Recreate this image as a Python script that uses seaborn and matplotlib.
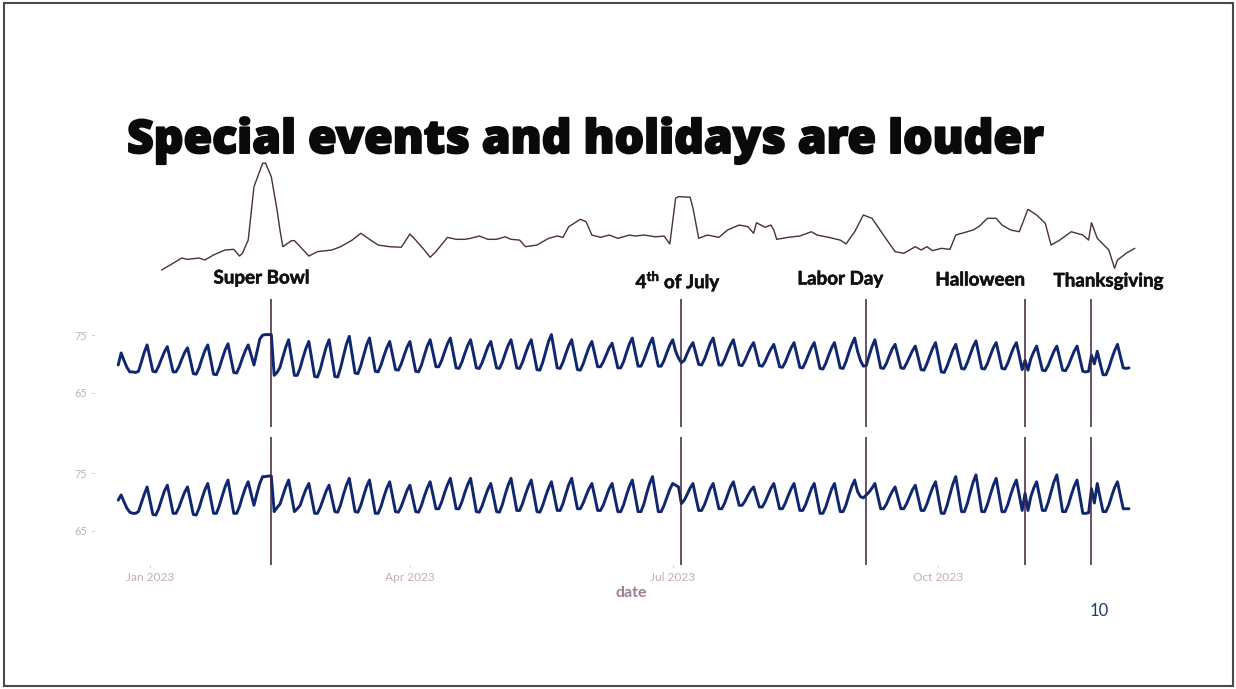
import numpy as np
import pandas as pd
import matplotlib
matplotlib.use("Agg")
import matplotlib.pyplot as plt
import matplotlib.dates as mdates
import matplotlib.patheffects as pe
from matplotlib.patches import Rectangle
import seaborn as sns

sns.set_theme(style="white")
plt.rcParams["font.family"] = ["Lato", "DejaVu Sans"]
plt.rcParams["mathtext.fontset"] = "custom"
plt.rcParams["mathtext.rm"] = "Lato:bold"
plt.rcParams["mathtext.bf"] = "Lato:bold"

# ---------------- data ----------------
title = "Special events and holidays are louder"
series_start = "2022-12-21"

# daily values, one row per week (Sun..Sat), top panel
panel_top = [
    69.8, 71.9, 70.6, 69.4,
    68.6, 68.6, 68.5, 68.7, 70.3, 72.0, 73.3,
    71.0, 68.7, 68.6, 69.6, 70.9, 72.1, 73.0,
    70.8, 68.6, 68.6, 69.5, 70.8, 72.0, 72.8,
    70.6, 68.3, 68.2, 69.3, 70.9, 72.3, 73.3,
    70.8, 68.2, 68.1, 69.3, 70.9, 72.4, 73.5,
    71.0, 68.5, 68.4, 69.5, 71.0, 72.3, 73.3,
    71.6, 69.8, 72.0, 74.3, 75.0, 75.1, 75.1,
    75.1, 68.0, 68.5, 69.4, 71.2, 72.9, 74.2,
    71.1, 68.0, 68.0, 69.3, 71.1, 72.7, 73.9,
    70.9, 67.8, 67.7, 69.1, 71.1, 72.9, 74.2,
    71.0, 67.8, 67.7, 69.3, 71.4, 73.4, 74.8,
    71.6, 68.4, 68.3, 69.7, 71.5, 73.3, 74.5,
    71.6, 68.7, 68.6, 69.8, 71.4, 72.8, 73.9,
    71.5, 69.0, 68.9, 70.0, 71.5, 72.9, 73.9,
    71.3, 68.7, 68.6, 69.8, 71.5, 73.1, 74.2,
    71.9, 69.5, 69.5, 70.6, 72.1, 73.5, 74.5,
    71.9, 69.3, 69.2, 70.3, 71.8, 73.2, 74.2,
    71.8, 69.3, 69.2, 70.2, 71.6, 73.0, 73.9,
    71.6, 69.3, 69.2, 70.3, 71.8, 73.2, 74.2,
    71.8, 69.3, 69.2, 70.3, 71.8, 73.2, 74.2,
    71.6, 69.0, 68.9, 70.3, 72.1, 73.9, 75.1,
    72.2, 69.3, 69.2, 70.3, 71.8, 73.2, 74.2,
    71.6, 69.0, 68.9, 70.0, 71.5, 72.9, 73.9,
    71.7, 69.5, 69.5, 70.4, 71.6, 72.8, 73.6,
    71.5, 69.3, 69.3, 70.4, 72.0, 73.5, 74.5,
    72.0, 69.6, 69.6, 70.7, 72.1, 73.5, 74.5,
    72.0, 69.6, 69.6, 70.6, 72.0, 73.3, 74.2,
    72.2, 71.0, 70.2, 70.6, 71.8, 72.9, 73.7,
    71.8, 69.9, 69.8, 70.8, 72.2, 73.6, 74.5,
    72.1, 69.8, 69.8, 70.8, 72.1, 73.3, 74.2,
    72.0, 69.8, 69.7, 70.6, 71.8, 72.9, 73.7,
    71.7, 69.7, 69.6, 70.4, 71.6, 72.6, 73.4,
    71.5, 69.5, 69.4, 70.3, 71.6, 72.8, 73.7,
    71.6, 69.4, 69.3, 70.3, 71.6, 72.8, 73.7,
    71.5, 69.2, 69.1, 70.1, 71.5, 72.8, 73.7,
    71.5, 69.3, 69.2, 70.4, 72.0, 73.4, 74.5,
    72.2, 70.6, 69.6, 69.7, 71.4, 73.0, 74.2,
    71.8, 69.3, 69.2, 70.1, 71.4, 72.6, 73.4,
    71.4, 69.3, 69.2, 70.1, 71.2, 72.3, 73.1,
    71.1, 69.0, 68.9, 70.0, 71.4, 72.7, 73.7,
    71.2, 68.6, 68.5, 69.6, 71.0, 72.4, 73.4,
    71.3, 69.2, 69.1, 70.2, 71.6, 73.0, 74.0,
    71.6, 69.2, 69.1, 70.1, 71.5, 72.8, 73.7,
    71.5, 69.2, 69.1, 70.1, 71.5, 72.8, 73.7,
    71.4, 69.0, 70.6, 68.9, 70.9, 72.1, 73.1,
    71.0, 68.9, 68.8, 69.7, 71.0, 72.2, 73.1,
    71.0, 68.9, 68.8, 69.7, 71.0, 72.2, 73.1,
    70.9, 68.7, 68.6, 68.7, 71.5, 70.0, 72.2,
    70.1, 68.1, 68.1, 69.3, 70.9, 72.3, 73.4,
    71.3, 69.3, 69.2, 69.3,
]

# daily values, bottom panel
panel_bottom = [
    70.3, 71.2, 70.0, 68.9,
    68.2, 68.0, 68.0, 68.3, 69.8, 71.3, 72.6,
    70.2, 67.8, 67.7, 68.8, 70.4, 71.9, 72.9,
    70.5, 68.0, 68.0, 69.0, 70.4, 71.7, 72.6,
    70.2, 67.8, 67.7, 68.9, 70.6, 72.1, 73.2,
    70.6, 68.0, 68.0, 69.3, 71.0, 72.6, 73.8,
    70.9, 68.0, 68.0, 69.2, 70.9, 72.4, 73.5,
    71.4, 69.4, 71.4, 73.2, 74.4, 74.4, 74.5,
    74.5, 68.3, 69.0, 69.6, 71.1, 72.6, 73.8,
    71.0, 68.3, 68.8, 69.4, 70.9, 72.2, 73.2,
    70.6, 68.0, 68.0, 69.1, 70.5, 71.9, 72.9,
    70.6, 68.3, 68.2, 69.5, 71.3, 72.9, 74.1,
    71.2, 68.3, 68.2, 69.4, 71.1, 72.7, 73.8,
    70.9, 68.0, 68.0, 69.2, 70.9, 72.4, 73.5,
    70.9, 68.3, 68.2, 69.2, 70.6, 72.0, 72.9,
    70.6, 68.3, 68.2, 69.4, 71.0, 72.4, 73.5,
    71.2, 68.8, 68.8, 70.0, 71.6, 73.0, 74.1,
    71.5, 68.8, 68.8, 70.0, 71.6, 73.0, 74.1,
    71.2, 68.3, 68.2, 69.3, 70.8, 72.2, 73.2,
    70.8, 68.3, 68.2, 69.5, 71.3, 72.9, 74.1,
    71.3, 68.5, 68.5, 69.7, 71.3, 72.7, 73.8,
    71.0, 68.3, 68.2, 69.4, 71.0, 72.4, 73.5,
    71.0, 68.5, 68.5, 69.7, 71.4, 73.0, 74.1,
    71.4, 68.8, 68.8, 69.8, 71.1, 72.3, 73.2,
    70.9, 68.5, 68.5, 69.5, 70.9, 72.3, 73.2,
    70.7, 68.3, 68.3, 69.5, 71.2, 72.7, 73.8,
    71.0, 68.3, 68.3, 69.6, 71.5, 73.2, 74.4,
    71.3, 68.3, 68.3, 69.4, 70.8, 72.2, 73.2,
    72.9, 72.6, 69.7, 70.3, 71.3, 72.4, 73.2,
    70.8, 68.5, 68.5, 69.5, 70.9, 72.3, 73.2,
    71.0, 68.8, 68.8, 69.8, 71.2, 72.6, 73.5,
    71.4, 69.4, 69.4, 70.1, 71.1, 72.0, 72.6,
    70.8, 69.1, 69.1, 70.0, 71.2, 72.4, 73.2,
    71.0, 68.8, 68.8, 69.8, 71.1, 72.3, 73.2,
    70.8, 68.5, 68.5, 69.5, 70.9, 72.3, 73.2,
    70.6, 68.0, 68.0, 69.1, 70.7, 72.2, 73.2,
    70.7, 68.3, 68.3, 69.5, 71.2, 72.7, 73.8,
    71.8, 70.9, 70.7, 71.2, 71.7, 72.4, 73.2,
    71.0, 68.8, 68.8, 69.6, 70.8, 71.8, 72.6,
    70.7, 68.8, 68.8, 69.7, 70.9, 72.1, 72.9,
    70.7, 68.5, 68.5, 69.6, 71.1, 72.5, 73.5,
    70.8, 68.0, 68.0, 69.4, 71.3, 73.1, 74.4,
    71.4, 68.3, 68.3, 69.7, 71.6, 73.4, 74.7,
    71.5, 68.3, 68.3, 69.6, 71.3, 72.9, 74.1,
    71.2, 68.3, 68.3, 69.5, 71.2, 72.7, 73.8,
    71.1, 68.5, 71.5, 68.5, 70.9, 72.4, 73.5,
    71.0, 68.5, 68.5, 69.9, 71.7, 73.5, 74.7,
    71.5, 68.3, 68.3, 69.5, 71.2, 72.7, 73.8,
    70.9, 68.0, 68.0, 68.1, 72.3, 69.8, 73.2,
    70.7, 68.3, 68.3, 69.4, 71.0, 72.5, 73.5,
    71.1, 68.8, 68.8, 68.8,
]

# "loudness" sparkline (index, 0-100)
loud_dates = [
    "2023-01-05", "2023-01-08", "2023-01-12", "2023-01-14", "2023-01-18", "2023-01-20",
    "2023-01-23", "2023-01-27", "2023-01-30", "2023-02-01", "2023-02-02", "2023-02-04",
    "2023-02-06", "2023-02-09", "2023-02-10", "2023-02-12", "2023-02-14", "2023-02-15",
    "2023-02-16", "2023-02-19", "2023-02-20", "2023-02-22", "2023-02-25", "2023-02-28",
    "2023-03-05", "2023-03-08", "2023-03-12", "2023-03-15", "2023-03-18", "2023-03-21",
    "2023-03-25", "2023-03-29", "2023-04-01", "2023-04-03", "2023-04-06", "2023-04-08",
    "2023-04-10", "2023-04-14", "2023-04-17", "2023-04-20", "2023-04-22", "2023-04-25",
    "2023-04-28", "2023-05-01", "2023-05-04", "2023-05-06", "2023-05-09", "2023-05-11",
    "2023-05-15", "2023-05-19", "2023-05-22", "2023-05-24", "2023-05-26", "2023-05-30",
    "2023-06-01", "2023-06-03", "2023-06-06", "2023-06-09", "2023-06-12", "2023-06-16",
    "2023-06-18", "2023-06-21", "2023-06-25", "2023-06-28", "2023-06-30", "2023-07-02",
    "2023-07-03", "2023-07-07", "2023-07-08", "2023-07-10", "2023-07-13", "2023-07-17",
    "2023-07-20", "2023-07-24", "2023-07-27", "2023-07-29", "2023-07-30", "2023-08-02",
    "2023-08-04", "2023-08-05", "2023-08-06", "2023-08-10", "2023-08-14", "2023-08-18",
    "2023-08-20", "2023-08-24", "2023-08-28", "2023-08-30", "2023-09-02", "2023-09-05",
    "2023-09-08", "2023-09-10", "2023-09-13", "2023-09-16", "2023-09-19", "2023-09-23",
    "2023-09-25", "2023-09-27", "2023-09-29", "2023-10-02", "2023-10-05", "2023-10-07",
    "2023-10-11", "2023-10-13", "2023-10-15", "2023-10-18", "2023-10-21", "2023-10-23",
    "2023-10-26", "2023-10-29", "2023-11-01", "2023-11-04", "2023-11-07", "2023-11-09",
    "2023-11-12", "2023-11-16", "2023-11-20", "2023-11-22", "2023-11-23", "2023-11-25",
    "2023-11-29", "2023-12-01", "2023-12-02", "2023-12-05", "2023-12-08",
]
loud_values = [
    1.8, 6.4, 12.7, 11.5, 12.7, 10.9,
    15.5, 20.0, 20.6, 14.5, 17.0, 29.0,
    77.5, 98.8, 99.0, 86.6, 56.4, 38.2,
    23.0, 28.5, 28.5, 23.0, 14.5, 18.5,
    20.0, 23.0, 29.0, 35.2, 29.7, 24.5,
    23.0, 22.5, 34.5, 29.0, 20.0, 13.4,
    18.5, 31.5, 29.7, 29.7, 30.6, 32.7,
    29.7, 29.7, 32.0, 29.7, 29.0, 23.0,
    24.5, 30.6, 32.7, 31.5, 41.2, 47.9,
    45.7, 33.6, 31.5, 33.6, 30.6, 33.6,
    32.7, 33.6, 32.0, 32.7, 25.5, 67.0,
    68.5, 68.0, 58.2, 30.6, 33.6, 31.5,
    38.2, 42.7, 41.2, 35.2, 44.8, 40.6,
    42.7, 38.2, 29.7, 31.5, 32.7, 36.6,
    33.6, 31.5, 29.0, 25.5, 36.6, 51.8,
    48.8, 41.2, 29.7, 18.5, 17.0, 23.0,
    20.0, 23.0, 19.4, 21.5, 20.6, 33.6,
    36.6, 38.2, 41.2, 48.8, 48.8, 42.7,
    38.2, 36.6, 57.0, 51.8, 44.3, 24.5,
    29.0, 36.6, 33.6, 29.0, 44.8, 30.6,
    20.0, 3.4, 10.9, 17.0, 21.5,
]

events = ["Super Bowl", r"4$^{\mathbf{th}}$ of July", "Labor Day", "Halloween", "Thanksgiving"]
event_dates = ["2023-02-12", "2023-07-04", "2023-09-06", "2023-10-31", "2023-11-23"]
y_ticks = [65, 75]
x_tick_dates = ["2023-01-01", "2023-04-01", "2023-07-01", "2023-10-01"]
x_tick_labels = ["Jan 2023", "Apr 2023", "Jul 2023", "Oct 2023"]
page_number = "10"

# ---------------- layout ----------------
W, H = 1236, 689
fig = plt.figure(figsize=(W / 100, H / 100), dpi=100)
fig.patch.set_facecolor("white")

def box(left, top, right, bottom):
    return [left / W, 1 - bottom / H, (right - left) / W, (bottom - top) / H]

LINE_COL = "#0f2670"
VLINE_COL = "#40243a"
TICK_COL = "#c3adb9"

ref = pd.Timestamp("2023-01-01")
px_per_day = 2.888
x_left = mdates.date2num(ref) + (94 - 150) / px_per_day
x_right = mdates.date2num(ref) + (1168 - 150) / px_per_day

dates = pd.date_range(series_start, periods=len(panel_top), freq="D")
df_top = pd.DataFrame({"date": dates, "value": panel_top})
df_bot = pd.DataFrame({"date": dates, "value": panel_bottom})
df_loud = pd.DataFrame({"date": pd.to_datetime(loud_dates), "value": loud_values})

ax_s = fig.add_axes(box(94, 160, 1168, 272))
ax1 = fig.add_axes(box(94, 299, 1168, 427))
ax2 = fig.add_axes(box(94, 437, 1168, 565))

sns.lineplot(data=df_loud, x="date", y="value", ax=ax_s, color="#4a2e42", linewidth=1.0)
ax_s.set_xlim(x_left, x_right)
ax_s.set_ylim(0, 101.8)
ax_s.axis("off")

for ax, df in [(ax1, df_top), (ax2, df_bot)]:
    sns.lineplot(data=df, x="date", y="value", ax=ax, color=LINE_COL, linewidth=2.1)
    for d in event_dates:
        ax.axvline(pd.Timestamp(d), color=VLINE_COL, linewidth=1.1, zorder=5)
    ax.set_xlim(x_left, x_right)
    ax.set_ylim(59.0, 81.3)
    ax.set_yticks(y_ticks)
    ax.set_yticklabels([str(v) for v in y_ticks])
    ax.tick_params(axis="y", left=True, length=1.6, width=0.7, colors=TICK_COL,
                   labelsize=7.8, pad=3.5)
    ax.set_ylabel("")
    ax.grid(False)
    for s in ax.spines.values():
        s.set_visible(False)
    ax.set_facecolor("none")

ax1.set_xticks([])
ax1.set_xlabel("")
ax2.set_xticks([mdates.date2num(pd.Timestamp(d)) for d in x_tick_dates])
ax2.set_xticklabels(x_tick_labels)
ax2.tick_params(axis="x", bottom=True, length=1.5, width=0.6, colors=TICK_COL,
                labelsize=8.6, pad=3.2)
ax2.set_xlabel("date", color="#9b7e98", fontsize=11.5, fontweight="bold", labelpad=2.5)

# title: wide heavy face, fitted to the slide's title width
t = fig.text(127 / W, 1 - 153 / H, title, fontsize=32, fontweight=800,
             family=["Open Sans", "DejaVu Sans"],
             color="#0a0a0a", ha="left", va="baseline")
fig.canvas.draw()
rend = fig.canvas.get_renderer()
tw = t.get_window_extent(rend).width
t.set_fontsize(32 * 917 / tw)
t.set_path_effects([pe.withStroke(linewidth=1.4, foreground="#0a0a0a")])

# event labels (slide annotations), placed relative to each event line
label_shift_px = [-10, -3, -26, -45, 17]
label_y_px = [278, 281, 279, 280, 281]
for name, d, dx, yy in zip(events, event_dates, label_shift_px, label_y_px):
    xpx = ax1.transData.transform((mdates.date2num(pd.Timestamp(d)), 70))[0]
    fig.text((xpx + dx) / W, 1 - yy / H, name, fontsize=13.5, fontweight="bold",
             color="#111111", ha="center", va="center",
             path_effects=[pe.withStroke(linewidth=0.4, foreground="#111111")])

fig.text(1099 / W, 1 - 611 / H, page_number, fontsize=12, color="#1f3a6e",
         ha="center", va="center")

fig.patches.append(Rectangle((4 / W, 3 / H), (1233 - 4) / W, (686 - 3) / H,
                             transform=fig.transFigure, fill=False,
                             edgecolor="#4a4a4a", linewidth=1.5))

fig.savefig("out.png", dpi=100, facecolor="white")
